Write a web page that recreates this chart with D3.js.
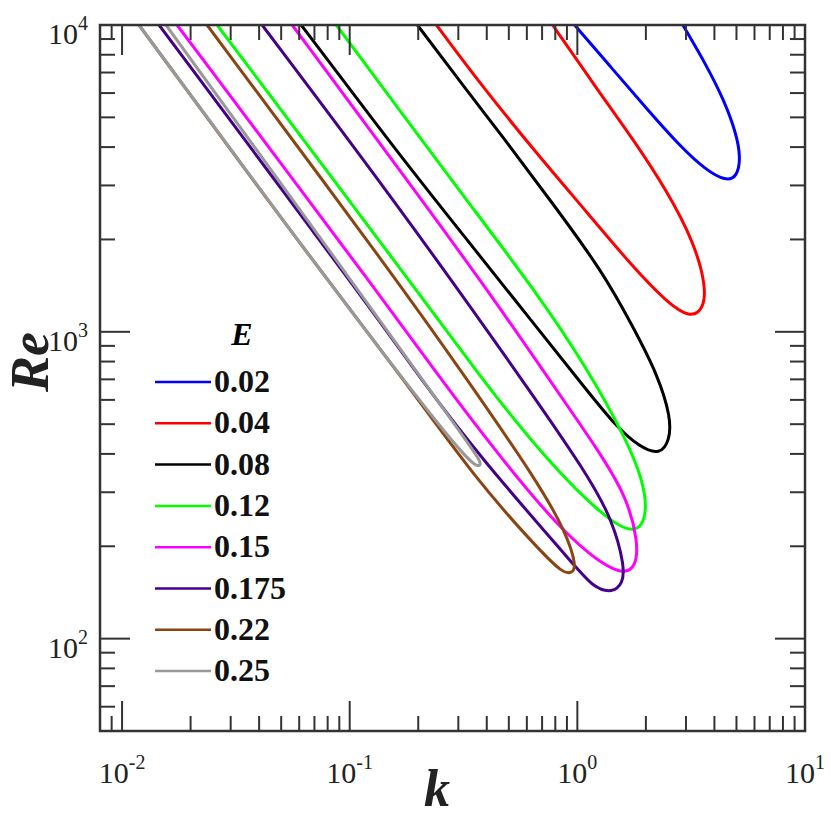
<!DOCTYPE html>
<html>
<head>
<meta charset="utf-8">
<script src="https://cdn.jsdelivr.net/npm/d3@7"></script>
<style>
  body { margin: 0; background: #fff; }
  text { font-family: "Liberation Serif", "Times New Roman", serif; }
</style>
</head>
<body>
<div id="chart"></div>
<script>
// neutral curves, [k, Re] (left branch -> nose -> right branch)
var curve002 = [[0.973, 10000], [1.415, 7240], [2.039, 5284], [2.819, 4032], [3.668, 3367], [4.492, 3100],
  [5.02, 3194], [5.229, 3685], [4.97, 4478], [4.401, 5694], [3.706, 7350], [2.906, 10000]];
var curve004 = [[0.2404, 10000], [0.3716, 6470], [0.6824, 3712], [1.11, 2438], [1.769, 1613], [2.471, 1250],
  [3.119, 1108], [3.594, 1186], [3.668, 1420], [3.248, 1961], [2.496, 2854], [1.769, 4217], [1.228, 6139], [0.7786, 10000]];
var curve008 = [[0.06124, 10000], [0.1653, 3768], [0.3258, 2006], [0.6359, 1075], [1.099, 645.5], [1.489, 489.1],
  [1.88, 421], [2.302, 396.3], [2.547, 443.6], [2.573, 527], [2.256, 722.5], [1.769, 1028], [1.279, 1589],
  [0.7707, 2648], [0.4645, 4378], [0.3359, 5957], [0.1983, 10000]];
var curve012 = [[0.02616, 10000], [0.1653, 1626], [0.3832, 695.9], [0.7325, 381.7], [1.346, 243.2], [1.823, 217.3],
  [2.039, 256.4], [1.938, 328.5], [1.648, 443.6], [1.099, 767.2], [0.6359, 1399], [0.3258, 2688], [0.1653, 5284], [0.0873, 10000]];
var curve015 = [[0.01744, 10000], [0.1603, 1117], [0.2529, 695.9], [0.4691, 381.7], [0.8973, 214.1], [1.535, 158.6],
  [1.823, 170.9], [1.842, 209.4], [1.648, 289.1], [1.253, 405.5], [0.7552, 695.9], [0.4551, 1204], [0.2239, 2494], [0.05591, 10000]];
var curve0175 = [[0.01454, 10000], [0.1322, 1117], [0.2065, 695.9], [0.3832, 381.7], [0.9535, 176.1], [1.168, 147.1],
  [1.43, 140.6], [1.582, 151.6], [1.615, 170.9], [1.43, 243.2], [1.099, 346.2], [0.5745, 695.9],
  [0.1653, 2550], [0.04124, 10000]];
var curve022 = [[0.01187, 10000], [0.06313, 1847], [0.1738, 695.9], [0.3606, 328.5], [0.6623, 198.6], [0.8615, 163.4],
  [0.9439, 163.4], [0.9929, 170.9], [0.8973, 220.6], [0.6623, 328.5], [0.3292, 695.9], [0.1653, 1441], [0.02363, 10000]];
var curve025 = [[0.01187, 10000], [0.06313, 1847], [0.3129, 390.3], [0.3716, 359.4], [0.3793, 376], [0.3359, 427.1],
  [0.0813, 1847], [0.0156, 10000]];

var eLabels = ["0.02", "0.04", "0.08", "0.12", "0.15", "0.175", "0.22", "0.25"];
var curves = [curve002, curve004, curve008, curve012, curve015, curve0175, curve022, curve025];
var colors = ["#0000ff", "#ff0000", "#000000", "#00ff00", "#ff00ff", "#45008a", "#8b4513", "#999999"];

var xDomain = [0.008, 10];
var yDomain = [50, 10000];
var xMajor = [0.01, 0.1, 1, 10];
var yMajor = [100, 1000, 10000];
var xExp = ["-2", "-1", "0", "1"];
var yExp = ["2", "3", "4"];

var svgWidth = 831, svgHeight = 822;
var margin = { top: 25, left: 100, bottom: 91, right: 26 };
var width = svgWidth - margin.left - margin.right;
var height = svgHeight - margin.top - margin.bottom;

var svg = d3.select("#chart").append("svg")
  .attr("width", svgWidth).attr("height", svgHeight);

var chartGroup = svg.append("g")
  .attr("transform", `translate(${margin.left}, ${margin.top})`);

var xScale = d3.scaleLog().domain(xDomain).range([0, width]);
var yScale = d3.scaleLog().domain(yDomain).range([height, 0]);

// minor ticks from the log scale: every 1..9 x decade inside the domain
var xMinor = xScale.ticks().filter(d => xMajor.indexOf(d) < 0);
var yMinor = yScale.ticks().filter(d => yMajor.indexOf(d) < 0);

var axisColor = "#333";
var majorLen = 30, minorLen = 15;

// curves
var line = d3.line()
  .x(d => xScale(d[0]))
  .y(d => yScale(d[1]))
  .curve(d3.curveBasis);

svg.append("defs").append("clipPath").attr("id", "clip")
  .append("rect").attr("width", width).attr("height", height);

chartGroup.append("g").attr("clip-path", "url(#clip)")
  .selectAll("path")
  .data(curves)
  .enter()
  .append("path")
  .attr("d", line)
  .attr("fill", "none")
  .attr("stroke", (d, i) => colors[i])
  .attr("stroke-width", 3)
  .attr("stroke-linejoin", "round");

// axes drawn as inward ticks on all four sides
function tickSide(values, len, side) {
  var horiz = side === "bottom" || side === "top";
  chartGroup.append("g").selectAll("line")
    .data(values)
    .enter()
    .append("line")
    .attr("x1", d => horiz ? xScale(d) : (side === "left" ? 0 : width))
    .attr("x2", d => horiz ? xScale(d) : (side === "left" ? len : width - len))
    .attr("y1", d => !horiz ? yScale(d) : (side === "top" ? 0 : height))
    .attr("y2", d => !horiz ? yScale(d) : (side === "top" ? len : height - len))
    .attr("stroke", axisColor)
    .attr("stroke-width", 2);
}

["bottom", "top"].forEach(function(s) {
  tickSide(xMajor, majorLen, s);
  tickSide(xMinor, minorLen, s);
});
["left", "right"].forEach(function(s) {
  tickSide(yMajor, majorLen, s);
  tickSide(yMinor, minorLen, s);
});

chartGroup.append("rect")
  .attr("width", width).attr("height", height)
  .attr("fill", "none")
  .attr("stroke", axisColor)
  .attr("stroke-width", 2.5);

// tick labels
var xLabels = chartGroup.append("g").selectAll("text")
  .data(xMajor)
  .enter()
  .append("text")
  .attr("x", d => xScale(d))
  .attr("y", height + 52)
  .attr("text-anchor", "middle")
  .attr("font-size", 30)
  .attr("fill", "#222");
xLabels.append("tspan").text("10");
xLabels.append("tspan").attr("dy", -14).attr("font-size", 20).text((d, i) => xExp[i]);

var yLabels = chartGroup.append("g").selectAll("text")
  .data(yMajor)
  .enter()
  .append("text")
  .attr("x", -12)
  .attr("y", d => yScale(d) + 19)
  .attr("text-anchor", "end")
  .attr("font-size", 30)
  .attr("fill", "#222");
yLabels.append("tspan").text("10");
yLabels.append("tspan").attr("dy", -14).attr("font-size", 20).text((d, i) => yExp[i]);

// axis titles
svg.append("text")
  .attr("x", 437).attr("y", 806)
  .attr("text-anchor", "middle")
  .attr("font-size", 52)
  .attr("font-weight", "bold")
  .attr("font-style", "italic")
  .attr("fill", "#222")
  .text("k");

svg.append("text")
  .attr("transform", "translate(48, 362) rotate(-90)")
  .attr("text-anchor", "middle")
  .attr("font-size", 54)
  .attr("font-weight", "bold")
  .attr("font-style", "italic")
  .attr("fill", "#222")
  .text("Re");

// legend
var legend = svg.append("g");
legend.append("text")
  .attr("x", 242).attr("y", 345)
  .attr("text-anchor", "middle")
  .attr("font-size", 32)
  .attr("font-weight", "bold")
  .attr("font-style", "italic")
  .text("E");

var rowGap = 41.3;
var rows = legend.selectAll("g.row")
  .data(eLabels)
  .enter()
  .append("g")
  .attr("class", "row")
  .attr("transform", (d, i) => `translate(0, ${382 + i * rowGap})`);

rows.append("line")
  .attr("x1", 155).attr("x2", 211)
  .attr("stroke", (d, i) => colors[i])
  .attr("stroke-width", 2.5);

rows.append("text")
  .attr("x", 214).attr("y", 10)
  .attr("font-size", 32)
  .attr("font-weight", "bold")
  .attr("fill", "#111")
  .text(d => d);
</script>
</body>
</html>
